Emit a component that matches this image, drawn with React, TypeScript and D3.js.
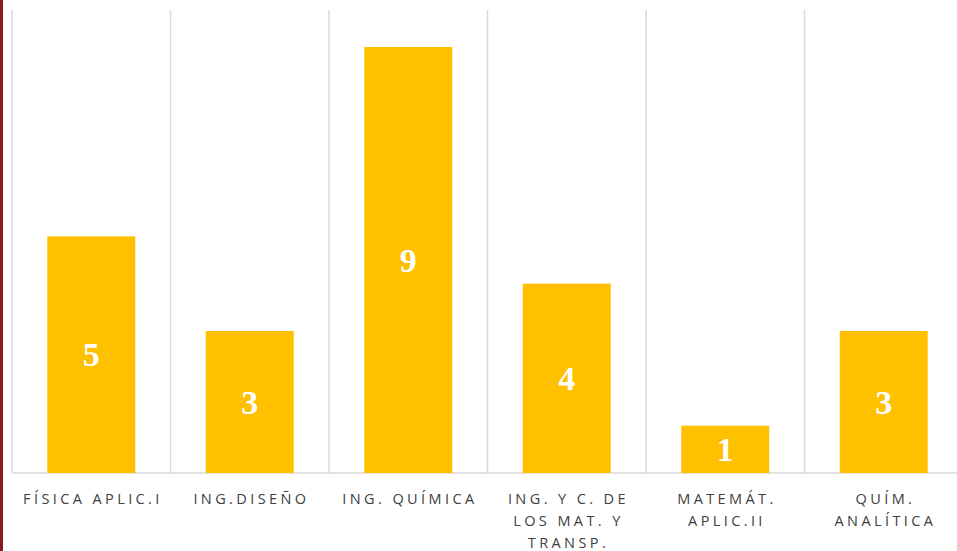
import React from "react";
import * as d3 from "d3";

const categories: string[][] = [
  ["FÍSICA APLIC.I"],
  ["ING.DISEÑO"],
  ["ING. QUÍMICA"],
  ["ING. Y C. DE", "LOS MAT. Y", "TRANSP."],
  ["MATEMÁT.", "APLIC.II"],
  ["QUÍM.", "ANALÍTICA"],
];
const values: number[] = [5, 3, 9, 4, 1, 3];

const W = 957;
const H = 551;
const left = 12;
const step = 158.5;
const baseY = 473;
const topY = 10;

export default function App() {
  const idx = categories.map((_, i) => String(i));
  const x = d3
    .scaleBand<string>()
    .domain(idx)
    .range([left, left + step * categories.length])
    .paddingInner(0.445)
    .paddingOuter(0.2225);
  const y = d3.scaleLinear().domain([0, 9]).range([baseY, 47]);
  const grid = d3.range(categories.length + 1).map((i) => left + step * i);
  const ls = 3.4;

  return (
    <div style={{ position: "fixed", left: 0, top: 0, width: W, height: H, background: "#fff" }}>
      <svg width={W} height={H} style={{ display: "block" }}>
        <rect x={0} y={0} width={3} height={H} fill="#8b1a1a" />
        {grid.map((gx, i) => (
          <line key={i} x1={gx} x2={gx} y1={topY} y2={baseY} stroke="#d9d9d9" strokeWidth={1.5} />
        ))}
        <line x1={left} x2={W} y1={baseY} y2={baseY} stroke="#d9d9d9" strokeWidth={1.5} />
        {values.map((v, i) => {
          const bx = x(String(i))!;
          const bw = x.bandwidth();
          const by = y(v);
          return (
            <g key={i}>
              <rect x={bx} y={by} width={bw} height={baseY - by} fill="#ffc000" />
              <text
                x={bx + bw / 2}
                y={(by + baseY) / 2}
                textAnchor="middle"
                dominantBaseline="central"
                fill="#ffffff"
                fontFamily="'Liberation Serif', 'DejaVu Serif', serif"
                fontWeight="bold"
                fontSize={34}
              >
                {v}
              </text>
            </g>
          );
        })}
        {categories.map((lines, i) => {
          const cx = x(String(i))! + x.bandwidth() / 2;
          return (
            <text
              key={i}
              textAnchor="middle"
              fill="#404040"
              fontFamily="'Open Sans', 'Noto Sans', sans-serif"
              fontSize={14.5}
              letterSpacing={ls}
            >
              {lines.map((l, j) => (
                <tspan key={j} x={cx + ls / 2} y={504 + j * 22}>
                  {l}
                </tspan>
              ))}
            </text>
          );
        })}
      </svg>
    </div>
  );
}
